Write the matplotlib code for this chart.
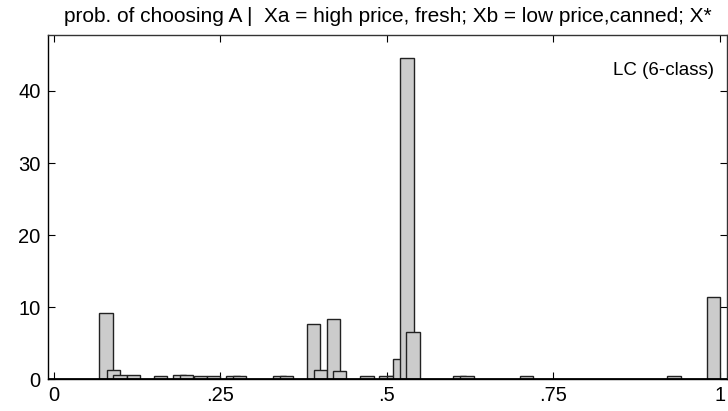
import matplotlib
matplotlib.use("Agg")
import matplotlib.pyplot as plt
import numpy as np

plt.rcParams["font.family"] = ["Liberation Sans", "DejaVu Sans"]

# predicted probabilities (bar positions) and their percentages
prob = [0.078, 0.089, 0.099, 0.119, 0.160, 0.188, 0.199, 0.220, 0.239,
        0.269, 0.279, 0.339, 0.349, 0.390, 0.400, 0.420, 0.429, 0.470,
        0.4985, 0.510, 0.519, 0.530, 0.539, 0.609, 0.620, 0.709, 0.931,
        0.990]
percent = [9.2, 1.3, 0.6, 0.6, 0.42, 0.6, 0.65, 0.45, 0.45,
           0.45, 0.45, 0.45, 0.45, 7.67, 1.3, 8.32, 1.15, 0.42,
           0.42, 0.42, 2.77, 44.6, 6.52, 0.42, 0.42, 0.42, 0.46,
           11.37]
xticks = [0, 0.25, 0.5, 0.75, 1]
xticklabels = ["0", ".25", ".5", ".75", "1"]
yticks = [0, 10, 20, 30, 40]

title = "prob. of choosing A |  Xa = high price, fresh; Xb = low price,canned; X*"
note = "LC (6-class)"

fig = plt.figure(figsize=(7.28, 4.11), dpi=100)
ax = fig.add_axes([0.0655, 0.0771, 0.9338, 0.8385])

ax.bar(prob, percent, width=0.02, color="#cccccc", edgecolor="#222222",
       linewidth=1.0, zorder=2)
ax.axhline(0, color="black", linewidth=2.0, zorder=3)

ax.set_xlim(-0.0095, 1.0113)
ax.set_ylim(0, 47.8)
ax.set_xticks(xticks)
ax.set_xticklabels(xticklabels)
ax.set_yticks(yticks)
ax.tick_params(direction="in", length=5, width=0.8, labelsize=14.5,
               top=True, right=True, pad=5)
ax.tick_params(axis="y", pad=5)

for side in ["left", "right", "top", "bottom"]:
    ax.spines[side].set_linewidth(1.0)
ax.spines["top"].set_color("#333333")
ax.spines["right"].set_color("#333333")

ax.set_title(title, fontsize=15, pad=9.4)
ax.text(0.98, 0.895, note, transform=ax.transAxes, ha="right", va="center",
        fontsize=13.5)

fig.savefig("out.png", dpi=100)
